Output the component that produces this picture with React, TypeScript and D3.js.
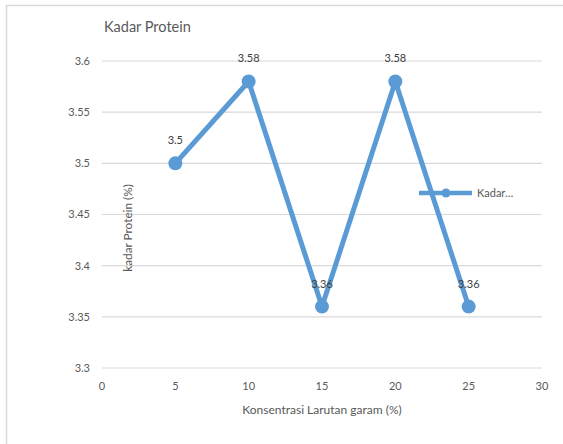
import React, { useEffect, useRef } from "react";
import * as d3 from "d3";

// data
const konsentrasi = [5, 10, 15, 20, 25];
const kadarProtein = [3.5, 3.58, 3.36, 3.58, 3.36];
const yTicks = [3.3, 3.35, 3.4, 3.45, 3.5, 3.55, 3.6];
const xTicks = [0, 5, 10, 15, 20, 25, 30];

export default function App() {
  const svgRef = useRef<SVGSVGElement | null>(null);

  useEffect(() => {
    const width = 563;
    const height = 444;
    const left = 102;
    const right = 542;
    const top = 61;
    const bottom = 368;
    const color = "#5B9BD5";
    const font = "Lato, 'Open Sans', sans-serif";

    const svg = d3.select(svgRef.current)
      .attr("width", width)
      .attr("height", height)
      .style("font-family", font);

    svg.selectAll("*").remove();

    svg.append("rect")
      .attr("width", width)
      .attr("height", height)
      .attr("fill", "white");

    // chart border
    svg.append("rect")
      .attr("x", 6.5)
      .attr("y", 5.5)
      .attr("width", 600)
      .attr("height", 600)
      .attr("fill", "none")
      .attr("stroke", "#d9d9d9")
      .attr("stroke-width", 1.5);

    const x = d3.scaleLinear().domain([0, 30]).range([left, right]);
    const y = d3.scaleLinear().domain([3.3, 3.6]).range([bottom, top]);

    // gridlines
    svg.append("g")
      .selectAll("line")
      .data(yTicks)
      .join("line")
      .attr("x1", left)
      .attr("x2", right)
      .attr("y1", d => y(d))
      .attr("y2", d => y(d))
      .attr("stroke", "#d9d9d9")
      .attr("stroke-width", 1.2);

    // y tick labels
    svg.append("g")
      .selectAll("text")
      .data(yTicks)
      .join("text")
      .attr("x", 90)
      .attr("y", d => y(d))
      .attr("dy", "0.35em")
      .attr("text-anchor", "end")
      .attr("font-size", 11)
      .attr("fill", "#595959")
      .text(d => d3.format("")(d));

    // x tick labels
    svg.append("g")
      .selectAll("text")
      .data(xTicks)
      .join("text")
      .attr("x", d => x(d))
      .attr("y", 390)
      .attr("text-anchor", "middle")
      .attr("font-size", 11)
      .attr("fill", "#595959")
      .text(d => d);

    svg.append("text")
      .attr("x", 322)
      .attr("y", 414)
      .attr("text-anchor", "middle")
      .attr("font-size", 12)
      .attr("fill", "#595959")
      .text("Konsentrasi Larutan garam (%)");

    svg.append("text")
      .attr("transform", "translate(132,228) rotate(-90)")
      .attr("text-anchor", "middle")
      .attr("font-size", 11.8)
      .attr("fill", "#595959")
      .text("kadar Protein (%)");

    svg.append("text")
      .attr("x", 104)
      .attr("y", 32)
      .attr("font-size", 14.5)
      .attr("fill", "#595959")
      .text("Kadar Protein");

    const points = konsentrasi.map((k, i) => [k, kadarProtein[i]] as [number, number]);

    const line = d3.line<[number, number]>()
      .x(d => x(d[0]))
      .y(d => y(d[1]));

    svg.append("path")
      .datum(points)
      .attr("d", line)
      .attr("fill", "none")
      .attr("stroke", color)
      .attr("stroke-width", 5)
      .attr("stroke-linejoin", "round");

    svg.append("g")
      .selectAll("circle")
      .data(points)
      .join("circle")
      .attr("cx", d => x(d[0]))
      .attr("cy", d => y(d[1]))
      .attr("r", 7)
      .attr("fill", color);

    // data labels
    svg.append("g")
      .selectAll("text")
      .data(points)
      .join("text")
      .attr("x", d => x(d[0]))
      .attr("y", d => y(d[1]) - 19)
      .attr("text-anchor", "middle")
      .attr("font-size", 11)
      .attr("fill", "#404040")
      .text(d => d[1]);

    // legend
    const legend = svg.append("g").attr("transform", "translate(419,193)");
    legend.append("line")
      .attr("x1", 0)
      .attr("x2", 53)
      .attr("stroke", color)
      .attr("stroke-width", 4.5);
    legend.append("circle")
      .attr("cx", 27)
      .attr("r", 4.5)
      .attr("fill", color);
    legend.append("text")
      .attr("x", 58)
      .attr("dy", "0.35em")
      .attr("font-size", 11)
      .attr("fill", "#595959")
      .text("Kadar…");
  }, []);

  return (
    <svg ref={svgRef} style={{ position: "absolute", left: 0, top: 0 }} />
  );
}
